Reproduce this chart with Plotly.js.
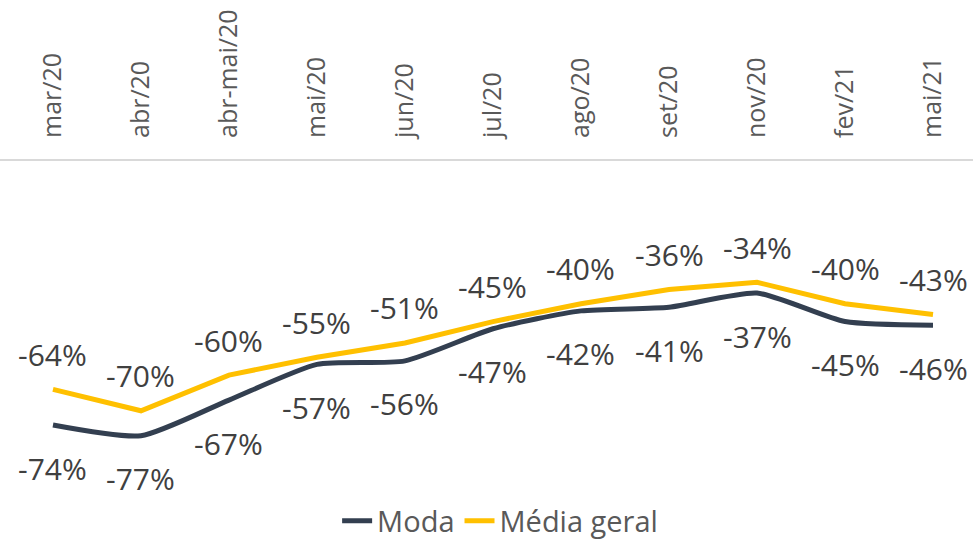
<!DOCTYPE html>
<html>
<head>
<meta charset="utf-8">
<script src="https://cdn.plot.ly/plotly-3.0.1.min.js"></script>
<style>html,body{margin:0;padding:0;background:#fff;}#chart{width:973px;height:543px;}</style>
</head>
<body>
<div id="chart"></div>
<script>
var categories = ["mar/20","abr/20","abr-mai/20","mai/20","jun/20","jul/20","ago/20","set/20","nov/20","fev/21","mai/21"];
var moda = [-74,-77,-67,-57,-56,-47,-42,-41,-37,-45,-46];
var mediaGeral = [-64,-70,-60,-55,-51,-45,-40,-36,-34,-40,-43];

var FONT = "Open Sans, Noto Sans, sans-serif";
var LABEL_COLOR = "#404040";

var traces = [
  {x: categories, y: moda, name: "Moda", type: "scatter", mode: "lines",
   line: {color: "#333F50", width: 5, shape: "spline", smoothing: 0.6}},
  {x: categories, y: mediaGeral, name: "Média geral", type: "scatter", mode: "lines",
   line: {color: "#FFC000", width: 5, shape: "linear"}}
];

var annotations = [];
categories.forEach(function(c, i){
  annotations.push({x: c, y: mediaGeral[i], xref: "x", yref: "y", text: mediaGeral[i] + "%",
    showarrow: false, yshift: 35, font: {family: FONT, size: 30, color: LABEL_COLOR}});
  annotations.push({x: c, y: moda[i], xref: "x", yref: "y", text: moda[i] + "%",
    showarrow: false, yshift: -43, font: {family: FONT, size: 30, color: LABEL_COLOR}});
});

var layout = {
  width: 973, height: 543,
  margin: {l: 0, r: 0, t: 161, b: 43, autoexpand: false},
  paper_bgcolor: "#ffffff", plot_bgcolor: "#ffffff",
  font: {family: FONT, color: "#595959"},
  showlegend: true,
  legend: {orientation: "h", x: 0.514, xanchor: "center", y: -0.062, yanchor: "middle",
    font: {family: FONT, size: 29, color: "#595959"}, tracegroupgap: 0},
  xaxis: {type: "category", side: "top", range: [-0.602, 10.4545],
    showline: true, linecolor: "#d9d9d9", linewidth: 2, showgrid: false, zeroline: false,
    ticks: "", tickangle: -90, ticklabelstandoff: 16,
    tickfont: {family: FONT, size: 25, color: "#595959"}},
  yaxis: {range: [-95, 0], showgrid: false, zeroline: false, showline: false,
    showticklabels: false, ticks: ""},
  annotations: annotations
};

Plotly.newPlot("chart", traces, layout, {displayModeBar: false, staticPlot: true});
</script>
</body>
</html>
